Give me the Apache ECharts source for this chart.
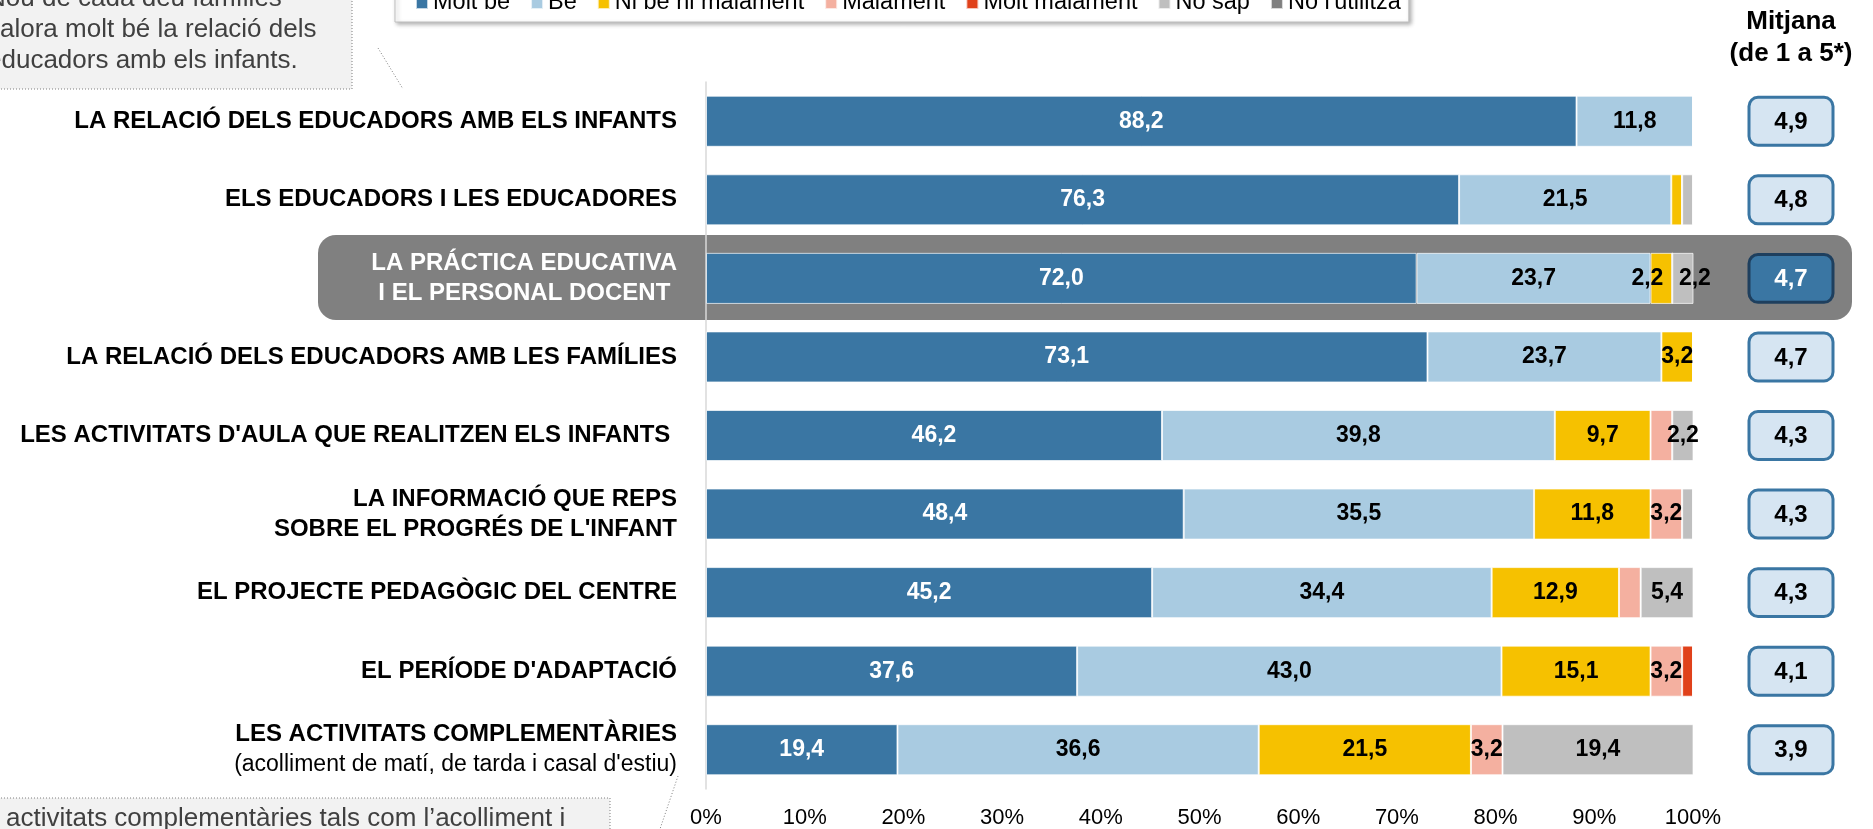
<!DOCTYPE html>
<html>
<head>
<meta charset="utf-8">
<script src="https://cdn.jsdelivr.net/npm/echarts@6/dist/echarts.min.js"></script>
<style>
  html, body { margin: 0; padding: 0; background: #fff; }
  #chart { width: 1873px; height: 829px; }
</style>
</head>
<body>
<div id="chart"></div>
<script>
//--------------------- Data ---------------------------//
const categories = [
  'LA RELACIÓ DELS EDUCADORS AMB ELS INFANTS',
  'ELS EDUCADORS I LES EDUCADORES',
  'LA PRÁCTICA EDUCATIVA\nI EL PERSONAL DOCENT ',
  'LA RELACIÓ DELS EDUCADORS AMB LES FAMÍLIES',
  "LES ACTIVITATS D'AULA QUE REALITZEN ELS INFANTS ",
  "LA INFORMACIÓ QUE REPS\nSOBRE EL PROGRÉS DE L'INFANT",
  'EL PROJECTE PEDAGÒGIC DEL CENTRE',
  "EL PERÍODE D'ADAPTACIÓ",
  "LES ACTIVITATS COMPLEMENTÀRIES\n(acolliment de matí, de tarda i casal d'estiu)"
];

const seriesNames = ['Molt bé', 'Bé', 'Ni bé ni malament', 'Malament', 'Molt malament', 'No sap', "No l'utilitza"];

const moltBe        = [88.2, 76.3, 72.0, 73.1, 46.2, 48.4, 45.2, 37.6, 19.4];
const be            = [11.8, 21.5, 23.7, 23.7, 39.8, 35.5, 34.4, 43.0, 36.6];
const niBeNiMal     = [0, 1.1, 2.2, 3.2, 9.7, 11.8, 12.9, 15.1, 21.5];
const malament      = [0, 0, 0, 0, 2.2, 3.2, 2.2, 3.2, 3.2];
const moltMalament  = [0, 0, 0, 0, 0, 0, 0, 1.1, 0];
const noSap         = [0, 1.1, 2.2, 0, 2.2, 1.1, 5.4, 0, 19.4];
const noUtilitza    = [0, 0, 0, 0, 0, 0, 0, 0, 0];

const mitjana = [4.9, 4.8, 4.7, 4.7, 4.3, 4.3, 4.3, 4.1, 3.9];

//--------------------- Styles ---------------------------//
const FONT = "'Liberation Sans', Arial, sans-serif";
const colors = ['#3A76A3', '#A9CBE1', '#F6C100', '#F4B0A0', '#E0411A', '#BFBFBF', '#7F7F7F'];
const highlightRow = 2;
// labels that Excel left out on small segments
const hiddenLabels = ['Malament-4', 'Malament-6'];
// labels nudged sideways so they don't collide
const labelShift = { 'Ni bé ni malament-2': [-14, 0], 'No sap-2': [12, 0] };

const seriesData = [moltBe, be, niBeNiMal, malament, moltMalament, noSap, noUtilitza];

function fmt(v) {
  return v.toFixed(1).replace('.', ',');
}

//--------------------- Chart ---------------------------//
const chart = echarts.init(document.getElementById('chart'));

const barSeries = seriesNames.map((name, k) => ({
  name: name,
  type: 'bar',
  stack: 'total',
  barWidth: '65%',
  xAxisIndex: 0,
  yAxisIndex: 0,
  data: seriesData[k].map((v, i) => {
    const key = name + '-' + i;
    return labelShift[key] ? { value: v, label: { offset: labelShift[key] } } : v;
  }),
  itemStyle: { color: colors[k], borderColor: 'rgba(255,255,255,0.7)', borderWidth: 1 },
  label: {
    show: true,
    position: 'inside',
    color: k === 0 ? '#fff' : '#000',
    fontWeight: 'bold',
    fontSize: 23,
    fontFamily: FONT,
    formatter: (p) => {
      if (p.value < 2 || hiddenLabels.includes(name + '-' + p.dataIndex)) return '';
      return fmt(p.value);
    }
  }
}));

// Mitjana boxes on their own little grid
function renderBox(params, api) {
  const c = api.coord([api.value(0), api.value(1)]);
  const band = api.size([1, 1]);
  const w = band[0];
  const h = band[1] * 0.61;
  const hl = api.value(1) === highlightRow;
  return {
    type: 'group',
    children: [
      {
        type: 'rect',
        shape: { x: c[0] - w / 2, y: c[1] - h / 2, width: w, height: h, r: 9 },
        style: { fill: hl ? '#3A76A3' : '#D6E5F2', stroke: hl ? '#1E3F5E' : '#3A76A3', lineWidth: 3 }
      },
      {
        type: 'text',
        style: {
          text: fmt(api.value(2)),
          x: c[0], y: c[1] + 1,
          textAlign: 'center', textVerticalAlign: 'middle',
          font: 'bold 24px ' + FONT,
          fill: hl ? '#fff' : '#000'
        }
      }
    ]
  };
}

const option = {
  animation: false,
  backgroundColor: '#fff',
  textStyle: { fontFamily: FONT },
  legend: {
    data: seriesNames,
    left: 395,
    top: -13,
    icon: 'rect',
    itemWidth: 12,
    itemHeight: 12,
    itemGap: 20,
    padding: [4, 8, 7, 20],
    selectedMode: false,
    textStyle: { fontSize: 23.5, color: '#000', fontFamily: FONT },
    backgroundColor: '#fff',
    borderColor: '#BFBFBF',
    borderWidth: 1,
    shadowColor: 'rgba(0,0,0,0.3)',
    shadowBlur: 4,
    shadowOffsetX: 2,
    shadowOffsetY: 2
  },
  grid: [
    { left: 706, top: 82, width: 987, height: 707 },
    { left: 1749, top: 82, width: 84, height: 707 }
  ],
  xAxis: [
    {
      type: 'value', gridIndex: 0, min: 0, max: 100, interval: 10,
      axisLine: { show: false }, axisTick: { show: false }, splitLine: { show: false },
      axisLabel: { formatter: '{value}%', fontSize: 22, color: '#000', margin: 18, fontFamily: FONT }
    },
    { type: 'category', gridIndex: 1, data: ['Mitjana'], show: false }
  ],
  yAxis: [
    {
      type: 'category', gridIndex: 0, data: categories, inverse: true,
      axisLine: { show: true, lineStyle: { color: '#D9D9D9', width: 1.5 } },
      axisTick: { show: false },
      axisLabel: {
        interval: 0,
        margin: 29,
        formatter: (value, index) => {
          const hl = index === highlightRow;
          return value.split('\n').map((line) => {
            const st = line.startsWith('(') ? 'n' : 'b';
            return '{' + st + (hl ? 'w' : '') + '|' + line + '}';
          }).join('\n');
        },
        rich: {
          b: { fontWeight: 'bold', fontSize: 24, color: '#000', lineHeight: 30, fontFamily: FONT },
          bw: { fontWeight: 'bold', fontSize: 24, color: '#fff', lineHeight: 30, fontFamily: FONT },
          n: { fontWeight: 'normal', fontSize: 23, color: '#000', lineHeight: 30, fontFamily: FONT }
        }
      }
    },
    { type: 'category', gridIndex: 1, data: categories, inverse: true, show: false }
  ],
  graphic: [
    // highlighted row band
    {
      type: 'rect', z: -1,
      shape: { x: 318, y: 235, width: 1534, height: 85, r: 18 },
      style: { fill: '#808080' }
    },
    // Mitjana header
    {
      type: 'text',
      style: {
        text: 'Mitjana\n(de 1 a 5*)', x: 1791, y: 6,
        textAlign: 'center', font: 'bold 26px ' + FONT, lineHeight: 32, fill: '#000'
      }
    },
    // top-left note (cut by the frame)
    {
      type: 'rect',
      shape: { x: -20, y: -20, width: 372, height: 109 },
      style: { fill: '#F2F2F2', stroke: '#7F7F7F', lineWidth: 1, lineDash: [1, 2] }
    },
    {
      type: 'text',
      style: {
        text: 'Nou de cada deu famílies\nvalora molt bé la relació dels\neducadors amb els infants.',
        x: -13, y: -17, textAlign: 'left', font: '26px ' + FONT, lineHeight: 31, fill: '#404040'
      }
    },
    {
      type: 'line',
      shape: { x1: 378, y1: 48, x2: 403, y2: 89 },
      style: { stroke: '#7F7F7F', lineWidth: 1, lineDash: [1, 2] }
    },
    // bottom-left note (cut by the frame)
    {
      type: 'rect',
      shape: { x: -20, y: 798, width: 630, height: 60 },
      style: { fill: '#F2F2F2', stroke: '#7F7F7F', lineWidth: 1, lineDash: [1, 2] }
    },
    {
      type: 'text',
      style: {
        text: "activitats complementàries tals com l’acolliment i",
        x: 6, y: 803, textAlign: 'left', font: '26px ' + FONT, lineHeight: 31, fill: '#404040'
      }
    },
    {
      type: 'line',
      shape: { x1: 678, y1: 776, x2: 660, y2: 829 },
      style: { stroke: '#7F7F7F', lineWidth: 1, lineDash: [1, 2] }
    }
  ],
  series: barSeries.concat([
    {
      name: 'Mitjana',
      type: 'custom',
      xAxisIndex: 1,
      yAxisIndex: 1,
      renderItem: renderBox,
      encode: { x: 0, y: 1 },
      data: mitjana.map((v, i) => [0, i, v]),
      z: 5
    }
  ])
};

chart.setOption(option);
</script>
</body>
</html>
